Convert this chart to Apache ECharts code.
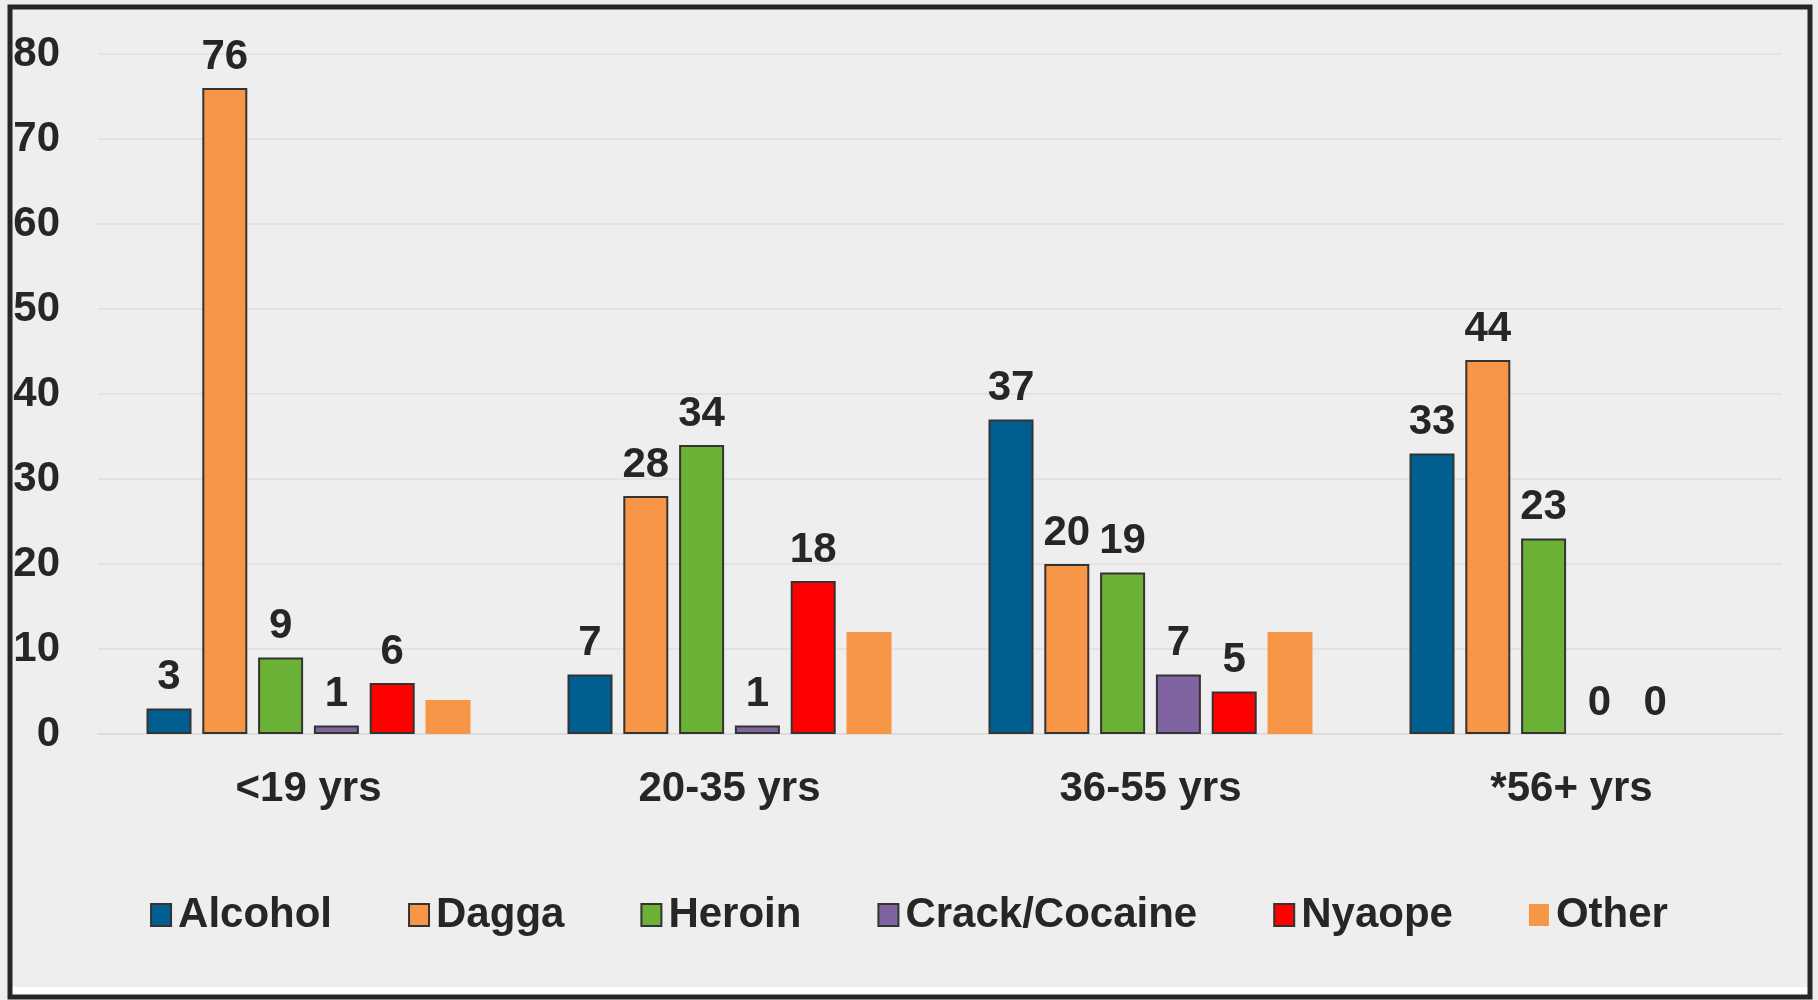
<!DOCTYPE html>
<html>
<head>
<meta charset="utf-8">
<title>Substance by age group</title>
<script src="https://cdn.jsdelivr.net/npm/echarts@6/dist/echarts.min.js"></script>
<style>
  html, body { margin: 0; padding: 0; background: #eeeeee; }
  #chart { width: 1818px; height: 1000px; }
</style>
</head>
<body>
<div id="chart"></div>
<script>
  // age groups on the x axis
  var categories = ['<19 yrs', '20-35 yrs', '36-55 yrs', '*56+ yrs']
  var yTicks = [0, 10, 20, 30, 40, 50, 60, 70, 80]

  // values per substance
  var alcohol = [3, 7, 37, 33]
  var dagga = [76, 28, 20, 44]
  var heroin = [9, 34, 19, 23]
  var crack = [1, 1, 7, 0]
  var nyaope = [6, 18, 5, 0]
  var other = [4, 12, 12, 0]

  var txt = '#262626'
  var font = '"Liberation Sans", Arial, sans-serif'

  function mkSeries(name, data, color, border, showLabel) {
    return {
      name: name,
      type: 'bar',
      // zero bars get no outline, like in Excel
      data: data.map(function (v) {
        return v === 0 ? { value: v, itemStyle: { borderWidth: 0 } } : v
      }),
      barWidth: 45,
      barGap: '24%',
      itemStyle: {
        color: color,
        borderColor: border ? '#333333' : color,
        borderWidth: border ? 2 : 0
      },
      label: {
        show: showLabel,
        position: 'top',
        distance: 10,
        color: txt,
        fontFamily: font,
        fontWeight: 'bold',
        fontSize: 42
      }
    }
  }

  var chart = echarts.init(document.getElementById('chart'))
  chart.setOption({
    backgroundColor: '#eeeeee',
    animation: false,
    textStyle: { fontFamily: font },
    grid: {
      left: 98,
      right: 36,
      top: 54,
      bottom: 266,
      outerBoundsMode: 'none'
    },
    legend: {
      left: 'center',
      top: 889,
      icon: 'rect',
      itemWidth: 20,
      itemHeight: 22,
      itemGap: 76,
      textStyle: {
        color: txt,
        fontFamily: font,
        fontWeight: 'bold',
        fontSize: 42,
        padding: [0, 0, 0, 2]
      },
      data: ['Alcohol', 'Dagga', 'Heroin', 'Crack/Cocaine', 'Nyaope', 'Other']
    },
    xAxis: {
      type: 'category',
      data: categories,
      axisLine: { lineStyle: { color: '#dcdcdc', width: 2 } },
      axisTick: { show: false },
      axisLabel: {
        color: txt,
        fontFamily: font,
        fontWeight: 'bold',
        fontSize: 42,
        margin: 34
      }
    },
    yAxis: {
      type: 'value',
      min: yTicks[0],
      max: yTicks[yTicks.length - 1],
      interval: 10,
      axisLine: { show: false },
      axisTick: { show: false },
      splitLine: { lineStyle: { color: '#e2e2e2', width: 2 } },
      axisLabel: {
        color: txt,
        fontFamily: font,
        fontWeight: 'bold',
        fontSize: 42,
        margin: 38
      }
    },
    series: [
      mkSeries('Alcohol', alcohol, '#005e90', true, true),
      mkSeries('Dagga', dagga, '#f79646', true, true),
      mkSeries('Heroin', heroin, '#6ab135', true, true),
      mkSeries('Crack/Cocaine', crack, '#8064a2', true, true),
      mkSeries('Nyaope', nyaope, '#ff0000', true, true),
      mkSeries('Other', other, '#f79646', false, false)
    ],
    graphic: [
      {
        type: 'rect',
        shape: { x: 10, y: 987, width: 1800, height: 9 },
        style: { fill: '#ffffff' },
        silent: true
      },
      {
        type: 'rect',
        shape: { x: 10, y: 7, width: 1800, height: 990 },
        style: { fill: 'none', stroke: '#262626', lineWidth: 5 },
        silent: true
      }
    ]
  })
</script>
</body>
</html>
